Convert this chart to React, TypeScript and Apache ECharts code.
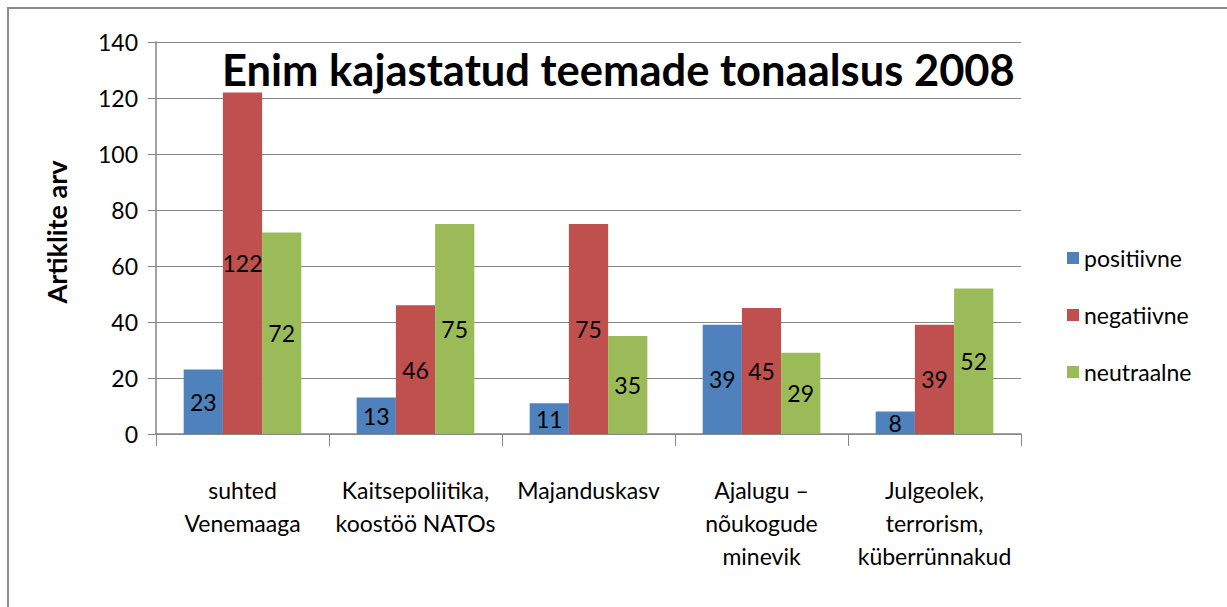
import React, { useEffect, useRef } from "react";
import * as echarts from "echarts";

const categories = [
  "suhted\nVenemaaga",
  "Kaitsepoliitika,\nkoostöö NATOs",
  "Majanduskasv",
  "Ajalugu –\nnõukogude\nminevik",
  "Julgeolek,\nterrorism,\nküberrünnakud",
];
const seriesNames = ["positiivne", "negatiivne", "neutraalne"];
const positiivne = [23, 13, 11, 39, 8];
const negatiivne = [122, 46, 75, 45, 39];
const neutraalne = [72, 75, 35, 29, 52];
const colors = ["#4F81BD", "#C0504D", "#9BBB59"];
const titleText = "Enim kajastatud teemade tonaalsus 2008";
const yAxisName = "Artiklite arv";

const FONT = "Lato, 'Open Sans', sans-serif";

export default function App() {
  const ref = useRef<HTMLDivElement>(null);
  useEffect(() => {
    if (!ref.current) return;
    const chart = echarts.init(ref.current, null, { renderer: "svg" });
    const values = [positiivne, negatiivne, neutraalne];
    chart.setOption({
      animation: false,
      backgroundColor: "#ffffff",
      textStyle: { fontFamily: FONT },
      title: {
        text: titleText,
        left: 217,
        top: 42,
        textStyle: {
          fontFamily: FONT,
          fontSize: 43.5,
          fontWeight: "bold",
          color: "#000000",
        },
      },
      legend: {
        orient: "vertical",
        left: 1062,
        top: 241,
        itemWidth: 12,
        itemHeight: 12,
        itemGap: 33,
        icon: "rect",
        textStyle: { fontFamily: FONT, fontSize: 23, color: "#000", lineHeight: 24 },
        data: seriesNames,
      },
      graphic: [
        {
          type: "rect",
          shape: { x: 8, y: 8, width: 1240, height: 640 },
          style: { fill: "none", stroke: "#8c8c8c", lineWidth: 2 },
          silent: true,
        },
      ],
      grid: { left: 156, right: 206, top: 42, bottom: 173 },
      xAxis: {
        type: "category",
        data: categories,
        axisLine: { lineStyle: { color: "#868686", width: 1.5 } },
        axisTick: { show: true, length: 12, lineStyle: { color: "#868686" } },
        axisLabel: {
          interval: 0,
          margin: 39,
          fontSize: 23,
          lineHeight: 33,
          color: "#000",
          fontFamily: FONT,
        },
      },
      yAxis: {
        type: "value",
        min: 0,
        max: 140,
        interval: 20,
        name: yAxisName,
        nameLocation: "middle",
        nameGap: 86,
        nameTextStyle: { fontFamily: FONT, fontSize: 27, fontWeight: "bold", color: "#000", padding: [0, 0, 0, 12] },
        axisLine: { show: true, lineStyle: { color: "#868686", width: 1.5 } },
        axisTick: { show: true, length: 8, lineStyle: { color: "#868686" } },
        axisLabel: { fontSize: 23, color: "#000", margin: 18, fontFamily: FONT },
        splitLine: { lineStyle: { color: "#868686", width: 1.2 } },
      },
      series: seriesNames.map((name, i) => ({
        name,
        type: "bar",
        data: values[i],
        barGap: "0%",
        barCategoryGap: "32%",
        itemStyle: { color: colors[i] },
        label: {
          show: true,
          position: "inside",
          fontSize: 23,
          color: "#000",
          fontFamily: FONT,
        },
      })),
    });
    return () => chart.dispose();
  }, []);
  return (
    <div
      ref={ref}
      style={{ position: "fixed", left: 0, top: 0, width: 1227, height: 607 }}
    />
  );
}
